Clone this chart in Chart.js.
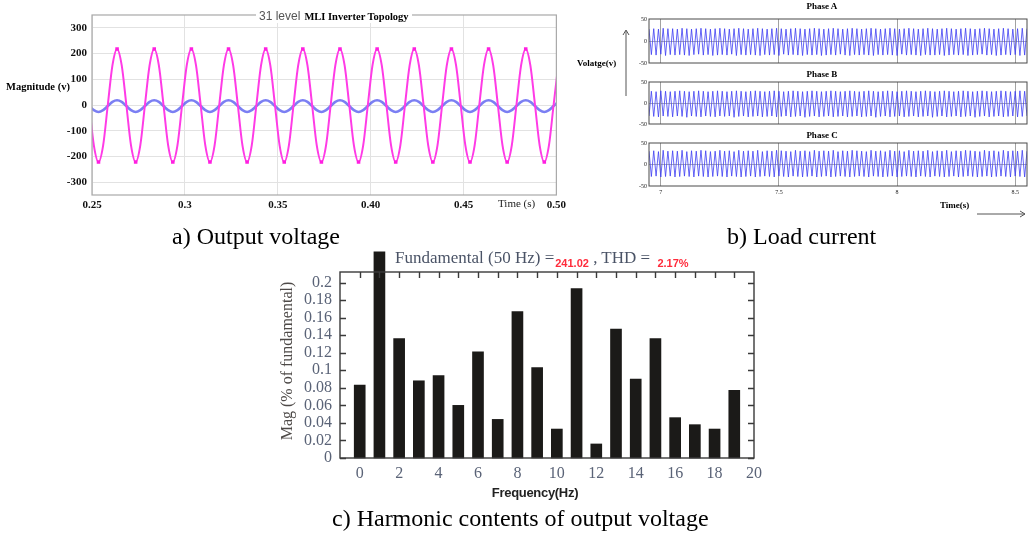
<!DOCTYPE html>
<html>
<head>
<meta charset="utf-8">
<title>31 level MLI inverter</title>
<script src="https://cdn.jsdelivr.net/npm/chart.js@4.4.1/dist/chart.umd.min.js"></script>
<style>
  html, body { margin: 0; padding: 0; background: #fff; }
  #page { position: relative; width: 1031px; height: 535px; overflow: hidden; }
  canvas, .lbl, svg { position: absolute; }
  .lbl { white-space: nowrap; line-height: 1; font-family: "Liberation Serif", "Times New Roman", serif; color: #000; }
  .cap { font-size: 24px; }
  .bold { font-weight: bold; }
</style>
</head>
<body>
<div id="page">
  <canvas id="outVolt" width="570" height="215" style="left:0;top:0;width:570px;height:215px"></canvas>
  <canvas id="phaseA" width="431" height="70" style="left:600px;top:0;width:431px;height:70px"></canvas>
  <canvas id="phaseB" width="431" height="70" style="left:600px;top:62px;width:431px;height:70px"></canvas>
  <canvas id="phaseC" width="431" height="77" style="left:600px;top:123px;width:431px;height:77px"></canvas>
  <canvas id="harmonics" width="500" height="246" style="left:270px;top:240px;width:500px;height:246px"></canvas>

  <!-- a) output voltage texts -->
  <div class="lbl" style="left:256px;top:7px;background:#fff;padding:0 3px">
    <span style="font-family:'Liberation Sans',Arial,sans-serif;font-size:12px;color:#555">31 level</span>
    <span class="bold" style="font-size:10.5px">MLI Inverter Topology</span>
  </div>
  <div class="lbl bold" style="left:6px;top:82px;font-size:10.5px">Magnitude (v)</div>
  <div class="lbl" style="left:498px;top:198px;font-size:11px;color:#222">Time (s)</div>
  <div class="lbl cap" style="left:172px;top:224px">a) Output voltage</div>

  <!-- b) load current texts -->
  <div class="lbl bold" style="left:792px;top:2px;width:60px;text-align:center;font-size:9px">Phase A</div>
  <div class="lbl bold" style="left:792px;top:70px;width:60px;text-align:center;font-size:9px">Phase B</div>
  <div class="lbl bold" style="left:792px;top:131px;width:60px;text-align:center;font-size:9px">Phase C</div>
  <div class="lbl bold" style="left:577px;top:59px;font-size:9px">Volatge(v)</div>
  <div class="lbl bold" style="left:940px;top:201px;font-size:9px">Time(s)</div>
  <svg width="1031" height="535" style="left:0;top:0;pointer-events:none">
    <g stroke="#555" stroke-width="1" fill="none">
      <line x1="626" y1="31" x2="626" y2="96"/>
      <polyline points="623,35 626,30 629,35"/>
      <line x1="977" y1="214" x2="1025" y2="214"/>
      <polyline points="1020,211 1025,214 1020,217"/>
    </g>
  </svg>
  <div class="lbl cap" style="left:727px;top:224px">b) Load current</div>

  <!-- c) harmonic spectrum texts -->
  <div class="lbl" style="left:395px;top:249px;font-size:17px;color:#4a5366">Fundamental (50 Hz) =<span style="font-family:'Liberation Sans',Arial,sans-serif;font-weight:bold;font-size:11px;color:#ff2b3b;position:relative;top:4px;margin-left:1px">241.02</span> , THD = <span style="font-family:'Liberation Sans',Arial,sans-serif;font-weight:bold;font-size:11px;color:#ff2b3b;position:relative;top:4px;margin-left:3px">2.17%</span></div>
  <div class="lbl" style="left:206px;top:353px;width:162px;text-align:center;font-size:16px;color:#4e4a48;transform:rotate(-90deg)">Mag (% of fundamental)</div>
  <div class="lbl bold" style="left:475px;top:486px;width:120px;text-align:center;font-size:13px;font-family:'Liberation Sans',Arial,sans-serif;letter-spacing:-0.3px;color:#222">Frequency(Hz)</div>
  <div class="lbl cap" style="left:332px;top:506px">c) Harmonic contents of output voltage</div>
</div>

<script>
// ---- a) output voltage, 0.25 s .. 0.50 s, one sample every 2.5 ms from 0.2485 s
const outSampleStart = 0.2485;
const outSampleStep = 0.0025;
const inverterVolt = [
  0, -157, -222, -157, 0, 154, 218, 154,
  0, -157, -222, -157, 0, 154, 218, 154,
  0, -157, -222, -157, 0, 154, 218, 154,
  0, -157, -222, -157, 0, 154, 218, 154,
  0, -157, -222, -157, 0, 154, 218, 154,
  0, -157, -222, -157, 0, 154, 218, 154,
  0, -157, -222, -157, 0, 154, 218, 154,
  0, -157, -222, -157, 0, 154, 218, 154,
  0, -157, -222, -157, 0, 154, 218, 154,
  0, -157, -222, -157, 0, 154, 218, 154,
  0, -157, -222, -157, 0, 154, 218, 154,
  0, -157, -222, -157, 0, 154, 218, 154,
  0, -157, -222, -157, 0, 154
];
const refVolt = [
  -4, -20, -27, -20, -4, 12, 18, 12,
  -4, -20, -27, -20, -4, 12, 18, 12,
  -4, -20, -27, -20, -4, 12, 18, 12,
  -4, -20, -27, -20, -4, 12, 18, 12,
  -4, -20, -27, -20, -4, 12, 18, 12,
  -4, -20, -27, -20, -4, 12, 18, 12,
  -4, -20, -27, -20, -4, 12, 18, 12,
  -4, -20, -27, -20, -4, 12, 18, 12,
  -4, -20, -27, -20, -4, 12, 18, 12,
  -4, -20, -27, -20, -4, 12, 18, 12,
  -4, -20, -27, -20, -4, 12, 18, 12,
  -4, -20, -27, -20, -4, 12, 18, 12,
  -4, -20, -27, -20, -4, 12
];
const outTimeTicks = [0.25, 0.30, 0.35, 0.40, 0.45, 0.50];
const outTimeLabels = ['0.25', '0.3', '0.35', '0.40', '0.45', '0.50'];
const outMagTicks = [-300, -200, -100, 0, 100, 200, 300];

// ---- b) load current per phase, one extreme every 10 ms from 6.95 s
const phaseStart = 6.95;
const phaseStep = 0.01;
const phaseA = [
  27,-31,28,-32,27,-30,29,-33,28,-31,
  28,-32,27,-31,29,-32,28,-33,27,-31,
  28,-30,29,-32,28,-31,27,-33,28,-32,
  29,-31,28,-32,27,-30,28,-33,29,-31,
  28,-32,27,-31,28,-32,29,-33,28,-31,
  27,-32,28,-31,29,-33,28,-30,27,-32,
  28,-31,29,-32,28,-33,27,-31,28,-32,
  29,-31,28,-33,27,-32,28,-31,29,-32,
  28,-30,27,-32,28,-33,29,-31,28,-32,
  27,-31,28,-32,29,-33,28,-31,27,-32,
  28,-31,29,-32,28,-33,27,-30,28,-32,
  29,-31,28,-32,27,-33,28,-31,29,-32,
  28,-32,27,-31,28,-33,29,-32,28,-31,
  27,-32,28,-31,29,-33,28,-32,27,-31,
  28,-30,29,-32,28,-31,27,-33,28,-32,
  29,-31,28,-32,27,-31,28,-33,29,-32,
  28
];
const phaseB = [
  -31,28,-32,27,-33,29,-31,28,-32,27,
  -33,28,-31,29,-32,28,-34,27,-31,28,
  -32,29,-33,28,-31,27,-32,28,-33,29,
  -31,28,-32,27,-31,28,-34,29,-32,28,
  -31,27,-33,28,-32,29,-31,28,-33,27,
  -32,28,-31,29,-33,28,-32,27,-31,28,
  -33,29,-32,28,-31,27,-34,28,-32,29,
  -31,28,-33,27,-32,28,-31,29,-33,28,
  -32,27,-31,28,-33,29,-32,28,-31,27,
  -33,28,-32,29,-31,28,-34,27,-32,28,
  -31,29,-33,28,-32,27,-31,28,-33,29,
  -32,28,-31,27,-33,28,-32,29,-31,28,
  -34,27,-32,28,-31,29,-33,28,-32,27,
  -31,28,-33,29,-32,28,-31,27,-34,28,
  -32,29,-31,28,-33,27,-32,28,-31,29,
  -33,28,-32,27,-31,28,-33,29,-32,28,
  -31
];
const phaseC = [
  31,-28,32,-27,30,-29,33,-28,31,-27,
  32,-29,31,-28,33,-27,30,-28,32,-29,
  31,-27,33,-28,32,-29,30,-28,31,-27,
  33,-28,31,-29,32,-27,30,-28,33,-29,
  31,-28,32,-27,31,-29,33,-28,30,-27,
  32,-28,31,-29,33,-27,32,-28,31,-29,
  30,-27,33,-28,31,-29,32,-28,30,-27,
  33,-29,31,-28,32,-27,31,-29,33,-28,
  30,-27,32,-28,31,-29,33,-28,32,-27,
  31,-28,30,-29,33,-27,31,-28,32,-29,
  30,-28,33,-27,31,-29,32,-28,30,-27,
  33,-28,31,-29,32,-27,31,-28,33,-29,
  30,-27,32,-28,31,-29,33,-28,30,-27,
  32,-29,31,-28,33,-27,32,-28,31,-29,
  30,-28,33,-27,31,-29,32,-28,30,-27,
  33,-28,31,-29,32,-27,31,-28,33,-29,
  31
];
const phaseTimeTicks = [7, 7.5, 8, 8.5];
const phaseCurTicks = [-50, 0, 50];

// ---- c) harmonic spectrum
const harmonicOrder = [0, 1, 2, 3, 4, 5, 6, 7, 8, 9, 10, 11, 12, 13, 14, 15, 16, 17, 18, 19];
const harmonicMag = [0.083, 0.235, 0.136, 0.088, 0.094, 0.060, 0.121, 0.044, 0.167, 0.103,
                     0.033, 0.193, 0.016, 0.147, 0.090, 0.136, 0.046, 0.038, 0.033, 0.077];
const freqTicks = [0, 2, 4, 6, 8, 10, 12, 14, 16, 18, 20];
const magTicks = [0, 0.02, 0.04, 0.06, 0.08, 0.1, 0.12, 0.14, 0.16, 0.18, 0.2];

const SERIF = "'Liberation Serif', 'Times New Roman', serif";

// box around the plot area, optional inward tick marks
const framePlugin = {
  id: 'frame',
  afterDatasetsDraw(chart, args, opts) {
    const { ctx, chartArea: a } = chart;
    ctx.save();
    ctx.strokeStyle = opts.color;
    ctx.lineWidth = opts.width;
    ctx.strokeRect(a.left, a.top, a.right - a.left, a.bottom - a.top);
    if (opts.inTicks) {
      const len = 6;
      ctx.beginPath();
      chart.scales.y.ticks.forEach(t => {
        const y = Math.round(chart.scales.y.getPixelForValue(t.value)) + 0.5;
        ctx.moveTo(a.left, y); ctx.lineTo(a.left + len, y);
        ctx.moveTo(a.right, y); ctx.lineTo(a.right - len, y);
      });
      for (let k = 0; k <= 19; k++) {
        const x = Math.round(chart.scales.x.getPixelForValue(k)) + 0.5;
        ctx.moveTo(x, a.top); ctx.lineTo(x, a.top + len);
      }
      ctx.stroke();
    }
    ctx.restore();
  }
};

const fixedTicks = list => scale => { scale.ticks = list.map(v => ({ value: v })); };
const plainLabel = v => String(v);

// a) output voltage
new Chart(document.getElementById('outVolt'), {
  type: 'line',
  data: {
    datasets: [
      {
        data: inverterVolt.map((v, i) => ({ x: outSampleStart + i * outSampleStep, y: v })),
        borderColor: '#ff3be6',
        backgroundColor: '#ff1fe0',
        borderWidth: 2,
        cubicInterpolationMode: 'monotone',
        pointStyle: 'rect',
        pointRadius: ctx => (Math.abs(ctx.raw.y) > 200 ? 2.5 : 0),
        pointBorderWidth: 0
      },
      {
        data: refVolt.map((v, i) => ({ x: outSampleStart + i * outSampleStep, y: v })),
        borderColor: 'rgba(90, 95, 240, 0.8)',
        borderWidth: 2.5,
        cubicInterpolationMode: 'monotone',
        pointRadius: 0
      }
    ]
  },
  options: {
    responsive: false,
    animation: false,
    layout: { padding: { top: 15, right: 13, bottom: 0, left: 0 } },
    plugins: {
      legend: { display: false },
      tooltip: { enabled: false },
      frame: { color: '#a8a8a8', width: 1.2 }
    },
    scales: {
      x: {
        type: 'linear', min: 0.25, max: 0.50,
        afterBuildTicks: fixedTicks(outTimeTicks),
        afterFit: s => { s.height = 20; },
        ticks: {
          callback: (v, i) => outTimeLabels[i],
          font: { family: SERIF, weight: 'bold', size: 11 },
          color: '#111', padding: 4, maxRotation: 0, autoSkip: false
        },
        grid: { color: '#e2e2e2', drawTicks: false },
        border: { display: false }
      },
      y: {
        min: -350, max: 350,
        afterBuildTicks: fixedTicks(outMagTicks),
        afterFit: s => { s.width = 92; },
        ticks: {
          font: { family: SERIF, weight: 'bold', size: 11 },
          color: '#111', padding: 5, autoSkip: false
        },
        grid: { color: '#e2e2e2', drawTicks: false },
        border: { display: false }
      }
    }
  },
  plugins: [framePlugin]
});

// b) one panel per phase
function phaseChart(id, values, topPad, xHeight, showTime) {
  new Chart(document.getElementById(id), {
    type: 'line',
    data: {
      datasets: [{
        data: values.map((v, i) => ({ x: phaseStart + i * phaseStep, y: v })),
        borderColor: '#3d3df2',
        borderWidth: 0.8,
        pointRadius: 0,
        tension: 0
      }]
    },
    options: {
      responsive: false,
      animation: false,
      layout: { padding: { top: topPad, right: 4, bottom: 0, left: 0 } },
      plugins: {
        legend: { display: false },
        tooltip: { enabled: false },
        frame: { color: '#4a4a4a', width: 1 }
      },
      scales: {
        x: {
          type: 'linear', min: 6.95, max: 8.55,
          afterBuildTicks: fixedTicks(phaseTimeTicks),
          afterFit: s => { s.height = xHeight; },
          ticks: {
            display: showTime,
            callback: plainLabel,
            font: { family: SERIF, size: 6 },
            color: '#222', padding: 3, maxRotation: 0, autoSkip: false
          },
          grid: { color: '#8a8a8a', lineWidth: 0.8, drawTicks: false },
          border: { display: false }
        },
        y: {
          min: -50, max: 50,
          afterBuildTicks: fixedTicks(phaseCurTicks),
          afterFit: s => { s.width = 49; },
          ticks: { font: { family: SERIF, size: 6 }, color: '#222', padding: 2, autoSkip: false },
          grid: {
            color: ctx => (ctx.tick && ctx.tick.value === 0 ? '#9a9a9a' : 'rgba(0,0,0,0)'),
            lineWidth: 0.8, drawTicks: false
          },
          border: { display: false }
        }
      }
    },
    plugins: [framePlugin]
  });
}
phaseChart('phaseA', phaseA, 19, 7, false);
phaseChart('phaseB', phaseB, 20, 8, false);
phaseChart('phaseC', phaseC, 20, 14, true);

// c) harmonic spectrum
new Chart(document.getElementById('harmonics'), {
  type: 'bar',
  data: {
    datasets: [{
      data: harmonicOrder.map((h, i) => ({ x: h, y: harmonicMag[i] })),
      backgroundColor: '#1b1a18',
      borderWidth: 0,
      barThickness: 11,
      clip: false
    }]
  },
  options: {
    responsive: false,
    animation: false,
    layout: { padding: { top: 32, right: 16, bottom: 0, left: 0 } },
    plugins: {
      legend: { display: false },
      tooltip: { enabled: false },
      frame: { color: '#3a3a3a', width: 1.4, inTicks: true }
    },
    scales: {
      x: {
        type: 'linear', min: -1, max: 20, offset: false,
        afterBuildTicks: fixedTicks(freqTicks),
        afterFit: s => { s.height = 28; },
        ticks: {
          callback: plainLabel,
          font: { family: SERIF, size: 16 },
          color: '#5a6377', padding: 6, maxRotation: 0, autoSkip: false
        },
        grid: { display: false, drawTicks: false },
        border: { display: false }
      },
      y: {
        min: 0, max: 0.212,
        afterBuildTicks: fixedTicks(magTicks),
        afterFit: s => { s.width = 70; },
        ticks: {
          callback: plainLabel,
          font: { family: SERIF, size: 16 },
          color: '#5a6377', padding: 8, autoSkip: false
        },
        grid: { display: false, drawTicks: false },
        border: { display: false }
      }
    }
  },
  plugins: [framePlugin]
});
</script>
</body>
</html>
